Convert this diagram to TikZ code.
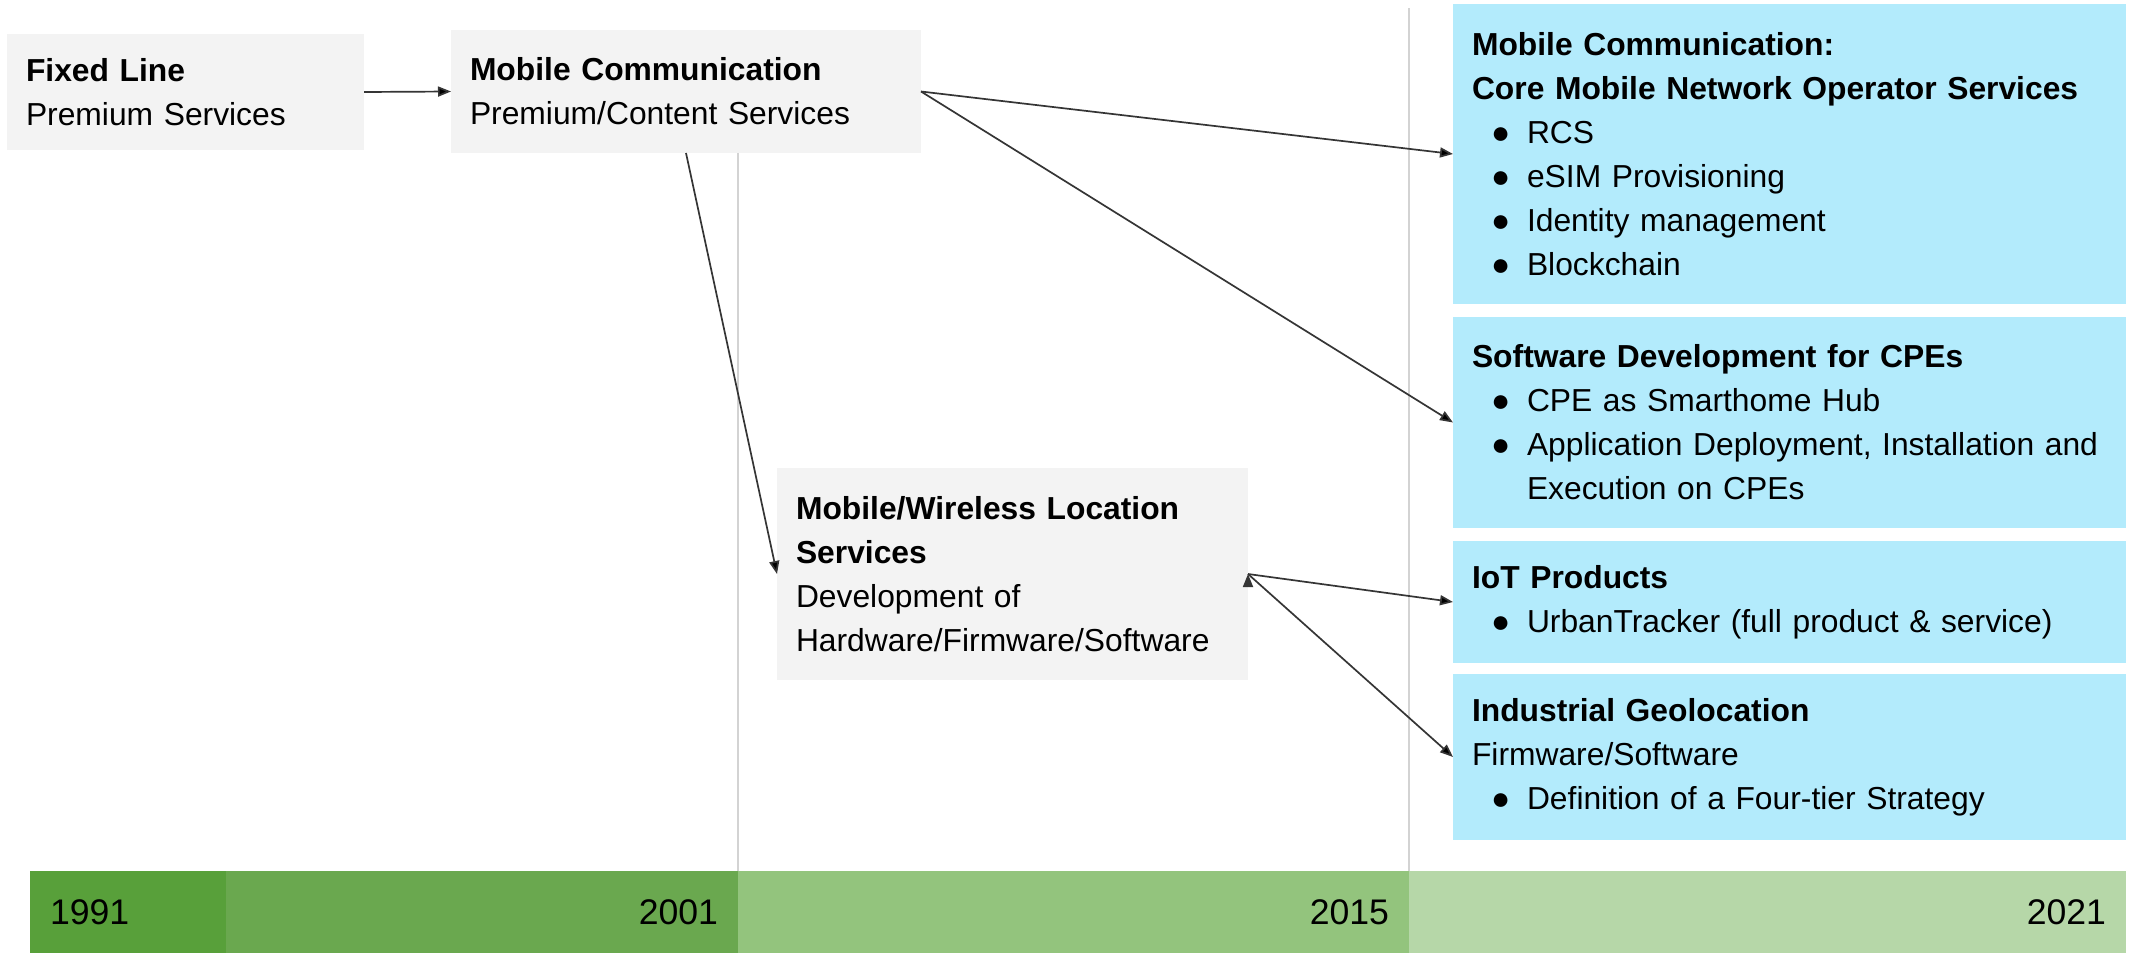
\documentclass[tikz,border=0pt]{standalone}
\usepackage{fontspec}
\setmainfont{Liberation Sans}
\usetikzlibrary{arrows.meta}
\setlength{\parindent}{0pt}
\definecolor{boxgrey}{HTML}{F3F3F3}
\definecolor{boxblue}{HTML}{B3EBFC}
\definecolor{gridgrey}{HTML}{D3D3D3}
\definecolor{arrowgrey}{HTML}{353535}
\definecolor{yearA}{HTML}{58A03A}
\definecolor{yearB}{HTML}{6AA84F}
\definecolor{yearC}{HTML}{93C47D}
\definecolor{yearD}{HTML}{B6D7A8}
\newcommand{\bul}{\hspace*{9.5pt}\makebox[18pt][l]{●}}
\newcommand{\cont}{\hspace*{27.5pt}}
\tikzset{
	stage/.style={anchor=north west, fill=boxgrey, outer sep=0pt, inner xsep=9.5pt, inner ysep=3pt, align=left, font=\fontsize{15.9}{22}\selectfont},
	target/.style={stage, fill=boxblue, text width=317.5pt},
	yearbar/.style={anchor=south west, outer sep=0pt, minimum height=41pt, inner xsep=10pt, inner ysep=0pt, font=\fontsize{17.8}{20}\selectfont},
	flow/.style={draw=arrowgrey, line width=0.85pt, -{Triangle[length=6.5pt,width=5pt]}}
}
\begin{document}
\begin{tikzpicture}[x=0.5pt, y=-0.5pt]
		\useasboundingbox[fill=white] (0,0) rectangle (2130,953);
		\node[yearbar, fill=yearA, text width=78pt, align=left] (y1991) at (30,953) {1991};
		\node[yearbar, fill=yearB, text width=236pt, align=right] (y2001) at (y1991.south east) {2001};
		\node[yearbar, fill=yearC, text width=315.5pt, align=right] (y2015) at (y2001.south east) {2015};
		\node[yearbar, fill=yearD, text width=338.5pt, align=right] (y2021) at (y2015.south east) {2021};
		\draw[gridgrey, line width=1pt] (y2015.north west) -- ++(0,-820);
		\draw[gridgrey, line width=1pt] (y2021.north west) -- ++(0,-863);
		\node[stage, text width=159.5pt, minimum height=58pt] (fixed) at (7,34) {\textbf{Fixed Line}\\Premium Services};
		\node[stage, text width=216pt, minimum height=61.5pt] (mobcom) at (451,30) {\textbf{Mobile Communication}\\Premium/Content Services};
		\node[stage, text width=216.5pt, minimum height=106pt] (location) at (777,468) {\textbf{Mobile/Wireless Location}\\\textbf{Services}\\Development of\\Hardware/Firmware/Software};
		\node[target, minimum height=150pt] (core) at (1453,4) {\textbf{Mobile Communication:}\\\textbf{Core Mobile Network Operator Services}\\\bul RCS\\\bul eSIM Provisioning\\\bul Identity management\\\bul Blockchain};
		\node[target, minimum height=105.5pt] (cpe) at (1453,317) {\textbf{Software Development for CPEs}\\\bul CPE as Smarthome Hub\\\bul Application Deployment, Installation and\\\cont Execution on CPEs};
		\node[target, minimum height=61pt] (iot) at (1453,541) {\textbf{IoT Products}\\\bul UrbanTracker (full product \& service)};
		\node[target, minimum height=83pt] (geo) at (1453,674) {\textbf{Industrial Geolocation}\\Firmware/Software\\\bul Definition of a Four-tier Strategy};
		\path[flow]
		(fixed.east) edge (mobcom.west)
		(mobcom.east) edge (core.west) edge (cpe.west)
		(mobcom.south) edge (location.west)
		(location.east) edge (iot.west) edge (geo.west);
\end{tikzpicture}
\end{document}
